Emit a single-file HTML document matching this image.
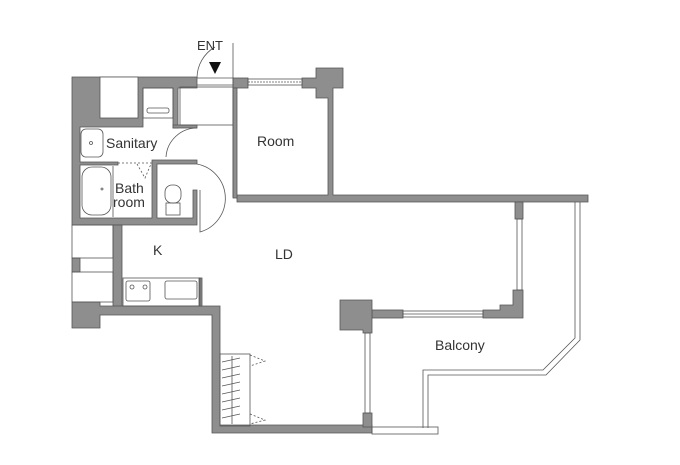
<!DOCTYPE html>
<html><head><meta charset="utf-8"><style>
html,body{margin:0;padding:0;background:#fff;}
svg{display:block}
text{font-family:"Liberation Sans",sans-serif;fill:#333}
</style></head><body>
<svg width="680" height="465" viewBox="0 0 680 465" xmlns="http://www.w3.org/2000/svg">
<g fill="#8e8e8e" stroke="#555" stroke-width="0.8">
<!-- top-left block -->
<path d="M72 77 H197 V88 H178 V128 H173 V88 H143 V127 H80 V162 H118 V165 H80 V218 H152 V160 H197 V164 H157 V218 H193 V190 H197 V225 H72 Z"/>
<rect x="100" y="77" width="38" height="41" fill="#fff"/>
<rect x="173" y="125" width="24" height="3"/>
<!-- room top wall -->
<rect x="233" y="78" width="15" height="10"/>
<path d="M302 78 H316 V68 H343 V88 H333 V195 H588 V202 H237 V195 H328 V98 H316 V88 H302 Z"/>
<rect x="233" y="88" width="4" height="110"/>
<!-- left lower -->
<rect x="113" y="225" width="9" height="82"/>
<rect x="72" y="258" width="8" height="14"/>
<path d="M72 302 H100 V306 H220 V425 H372 V433 H212 V315 H100 V328 H72 Z"/>
<rect x="199" y="278" width="3" height="28"/>
<!-- right side -->
<rect x="515" y="202" width="8" height="17"/>
<path d="M513 290 H523 V318 H483 V310 H500 V305 H513 Z"/>
<rect x="372" y="310" width="31" height="8"/>
<path d="M340 300 H372 V310 H372 V333 H363 V330 H340 Z"/>
<rect x="363" y="413" width="9" height="14"/>
</g>
<g fill="none" stroke="#555" stroke-width="0.8">
<rect x="248" y="79" width="54" height="6"/>
<line x1="248" y1="82" x2="302" y2="82" stroke-dasharray="2 1"/>
<rect x="517" y="219" width="5" height="71"/>
<rect x="403" y="311" width="80" height="6"/>
<line x1="403" y1="314" x2="483" y2="314"/>
<rect x="365" y="333" width="5" height="80"/>
<rect x="72" y="225" width="41" height="33"/>
<rect x="72" y="272" width="41" height="30"/>
<rect x="143" y="88" width="30" height="30"/>
<rect x="147" y="108" width="22" height="5" rx="2"/>
<rect x="180" y="87" width="53" height="38"/>
<line x1="197" y1="78" x2="233" y2="78"/>
<line x1="197" y1="85" x2="233" y2="85"/>
<line x1="233" y1="43" x2="233" y2="197"/>
<path d="M197 78 A36 36 0 0 1 215 47"/>
<rect x="81" y="129" width="22" height="28" rx="5"/>
<circle cx="91" cy="143" r="1.5"/>
<path d="M166 157 A31 31 0 0 1 197 128"/>
<line x1="118" y1="163" x2="152" y2="163" stroke-dasharray="2 2"/>
<path d="M137 164 L145 178 L151 164" stroke-dasharray="2 2"/>
<rect x="82" y="167" width="29" height="48" rx="10"/>
<line x1="113" y1="166" x2="113" y2="217"/>
<circle cx="102" cy="189" r="1"/>
<rect x="165" y="185" width="16" height="18" rx="7"/>
<rect x="166" y="203" width="14" height="12"/>
<path d="M197 164 A35 35 0 0 1 200 232 V190"/>
<rect x="123" y="278" width="77" height="28"/>
<rect x="126" y="281" width="24" height="20" rx="2"/>
<circle cx="132" cy="287" r="2"/><circle cx="145" cy="287" r="2"/>
<rect x="165" y="281" width="32" height="18" rx="2"/>
<rect x="220" y="354" width="30" height="72"/>
<line x1="232" y1="356" x2="232" y2="424"/>
<g stroke-width="0.7">
<line x1="222" y1="362" x2="240" y2="358"/><line x1="222" y1="370" x2="240" y2="366"/>
<line x1="222" y1="378" x2="240" y2="374"/><line x1="222" y1="386" x2="240" y2="382"/>
<line x1="222" y1="394" x2="240" y2="390"/><line x1="222" y1="402" x2="240" y2="398"/>
<line x1="222" y1="410" x2="240" y2="406"/><line x1="222" y1="418" x2="240" y2="414"/>
</g>
<path d="M250 355 L265 361 L250 366 M250 414 L265 420 L250 424" stroke-dasharray="2 2"/>
<path d="M575 202 V338 L543 370 H423 V428"/>
<path d="M580 202 V340 L546 375 H428 V428"/>
<rect x="372" y="427" width="66" height="7"/>
</g>
<path d="M209 62 H221 L215 74 Z" fill="#111"/>
<text x="197" y="50" font-size="13">ENT</text>
<text x="257" y="146" font-size="14">Room</text>
<text x="106" y="148" font-size="14">Sanitary</text>
<text x="115" y="193" font-size="14">Bath</text>
<text x="113" y="207" font-size="14">room</text>
<text x="153" y="255" font-size="14">K</text>
<text x="275" y="259" font-size="14">LD</text>
<text x="435" y="350" font-size="14">Balcony</text>
</svg>
</body></html>
